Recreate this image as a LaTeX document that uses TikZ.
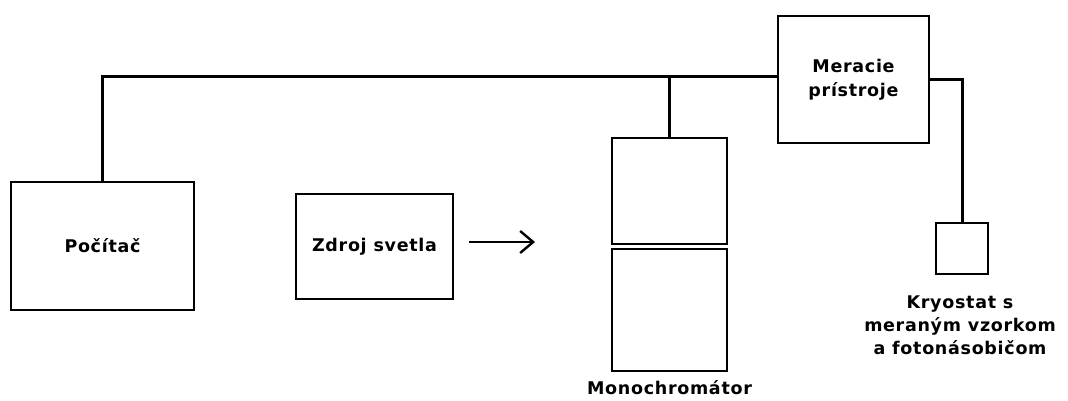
\documentclass[tikz,border=0pt]{standalone}
\usepackage{fontspec}
\setmainfont{DejaVu Sans}[LetterSpace=4]
\usetikzlibrary{arrows.meta}
\tikzset{
  box/.style={draw=black, line width=1.4pt, inner sep=0pt, font=\bfseries\fontsize{17.5}{24}\selectfont, align=center},
  wire/.style={draw=black, line width=3pt},
  lbl/.style={font=\bfseries\fontsize{17.5}{23}\selectfont, align=center, inner sep=0pt}
}
\begin{document}
\begin{tikzpicture}[x=1pt,y=-1pt]
\useasboundingbox (0,0) rectangle (1068,401);
\node[box, minimum width=183pt, minimum height=128pt] (pc) at (102.5,246) {Počítač};
\node[box, minimum width=157pt, minimum height=105pt] (zdroj) at (374.5,246.5) {Zdroj svetla};
\node[box, minimum width=115pt, minimum height=106pt] (mono1) at (669.5,191) {};
\node[box, minimum width=115pt, minimum height=122pt] (mono2) at (669.5,310) {};
\node[lbl, anchor=north] (monolbl) at (669.5,380) {Monochromátor};
\node[box, minimum width=151pt, minimum height=127pt] (mer) at (853.5,79.5) {Meracie\\prístroje};
\node[box, minimum width=52pt, minimum height=51pt] (kry) at (962,248.5) {};
\node[lbl, anchor=north] (krylbl) at (960,295.5) {Kryostat s\\meraným vzorkom\\a fotonásobičom};
\coordinate (bus) at (669.5,77);
\draw[wire] (pc.north) |- ([yshift=2.5pt]mer.west);
\draw[wire] (mono1.north) -- (mono1.north |- bus);
\draw[wire] (mer.east) -| (kry.north);
\coordinate (a1) at (469,242);
\coordinate (a2) at (535,242);
\draw[line width=2.6pt, -{Straight Barb[length=13pt,width=22pt,line width=2.4pt]}] (a1) -- (a2);
\end{tikzpicture}
\end{document}
